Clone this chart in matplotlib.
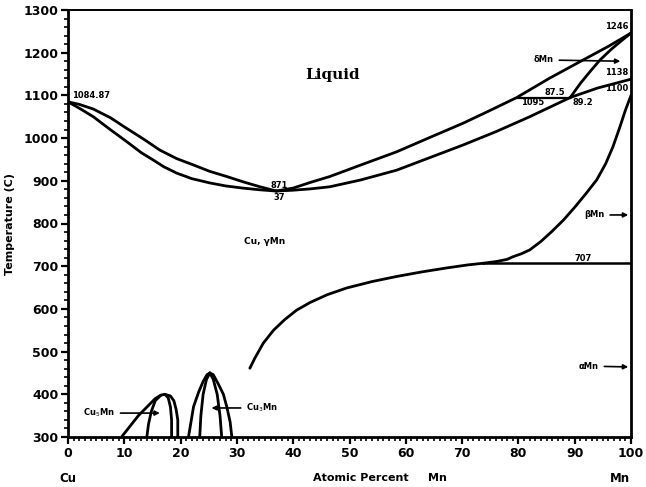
import matplotlib
matplotlib.use("Agg")
import matplotlib.pyplot as plt
from matplotlib.ticker import MultipleLocator

# ---- data (composition at.% Mn, temperature C) ----
liq_left_x = [0, 2, 4.5, 7.5, 10.4, 13.5, 16.3, 19.3, 22.3, 25.2, 28.2, 31, 34.1, 37]
liq_left_t = [1084.87, 1079, 1068, 1048, 1023, 997, 972, 952, 937, 922, 910, 898, 886, 876]
liq_right_x = [37, 40, 43, 46.5, 52, 58.4, 64, 70.2, 75, 79.7, 85.5, 91.5, 96, 100]
liq_right_t = [876, 883, 896, 910, 937, 968, 1000, 1035, 1065, 1095, 1140, 1183, 1215, 1246]

sol_left_x = [0, 2, 4.5, 7.5, 10.4, 13, 15.1, 17, 19.3, 22, 25.2, 28, 31, 34, 37]
sol_left_t = [1084.87, 1070, 1050, 1020, 992, 966, 949, 933, 918, 905, 895, 888, 883, 879, 876]
sol_right_x = [37, 40, 43, 46.5, 52, 58.4, 64, 70.2, 76, 82, 86, 89.2]
sol_right_t = [876, 878, 881, 886, 902, 925, 953, 984, 1015, 1050, 1075, 1095]

delta_sol_x = [89.2, 91, 92.8, 94.5, 96.5, 98.3, 100]
delta_sol_t = [1095, 1128, 1157, 1183, 1208, 1228, 1246]

perit_x = [79.7, 89.2]
perit_t = [1095, 1095]

gd_x = [89.2, 94, 100]
gd_t = [1095, 1117, 1138]

gb_x = [73.8, 76.1, 78, 79, 80.5, 82, 84, 86, 88, 90, 92, 93.9, 95.5, 96.8, 98, 99, 100]
gb_t = [707, 711, 716, 722, 729, 738, 758, 782, 808, 838, 870, 902, 940, 980, 1025, 1065, 1100]

line707_x = [73.8, 100]
line707_t = [707, 707]

low_x = [32.3, 33.2, 34.7, 36.5, 38.5, 40.6, 43, 46, 49.5, 54, 58.4, 63, 67.3, 71, 73.8]
low_t = [461, 485, 520, 550, 575, 597, 615, 633, 649, 664, 676, 687, 696, 703, 707]

# Cu5Mn dome
d1_outer_x = [9.5, 11, 12.5, 14, 15.5, 16.5, 17.2, 18.2, 18.8, 19.2, 19.5, 19.5]
d1_outer_t = [300, 325, 350, 370, 390, 398, 400, 396, 385, 365, 340, 300]
d1_inl_x = [14, 14.3, 14.8, 15.5, 16.5]
d1_inl_t = [300, 330, 360, 385, 398]
d1_inr_x = [18.4, 18.4, 18.2, 17.8, 17.2]
d1_inr_t = [300, 340, 370, 392, 400]

# Cu3Mn dome
d2_outer_x = [21.4, 22.3, 23.2, 24, 24.7, 25.2, 25.8, 26.7, 27.6, 28.2, 28.8, 29.1]
d2_outer_t = [300, 371, 405, 430, 446, 450, 446, 424, 400, 371, 335, 300]
d2_inl_x = [23.4, 23.6, 24.0, 24.6, 25.2]
d2_inl_t = [300, 350, 400, 435, 450]
d2_inr_x = [27.3, 27.0, 26.5, 25.8, 25.2]
d2_inr_t = [300, 350, 400, 435, 450]

x_ticks = [0, 10, 20, 30, 40, 50, 60, 70, 80, 90, 100]
y_ticks = [300, 400, 500, 600, 700, 800, 900, 1000, 1100, 1200, 1300]

fig = plt.figure(figsize=(6.46, 4.87), dpi=100)
ax = fig.add_axes([68 / 646, 1 - 437 / 487, (631 - 68) / 646, (437 - 10) / 487])

lw = 2.0
c = "black"
for xs, ts in [(liq_left_x, liq_left_t), (liq_right_x, liq_right_t),
               (sol_left_x, sol_left_t), (sol_right_x, sol_right_t),
               (delta_sol_x, delta_sol_t), (gd_x, gd_t), (gb_x, gb_t),
               (low_x, low_t),
               (d1_outer_x, d1_outer_t), (d1_inl_x, d1_inl_t), (d1_inr_x, d1_inr_t),
               (d2_outer_x, d2_outer_t), (d2_inl_x, d2_inl_t), (d2_inr_x, d2_inr_t)]:
    ax.plot(xs, ts, color=c, lw=lw, solid_capstyle="round", solid_joinstyle="round")
ax.plot(perit_x, perit_t, color=c, lw=1.6)
ax.plot(line707_x, line707_t, color=c, lw=1.8)

ax.set_xlim(0, 100)
ax.set_ylim(300, 1300)
ax.set_xticks(x_ticks)
ax.set_yticks(y_ticks)
ax.xaxis.set_minor_locator(MultipleLocator(1))
ax.yaxis.set_minor_locator(MultipleLocator(20))
ax.tick_params(which="major", direction="out", length=5, width=1.6,
               labelsize=9, pad=2)
ax.tick_params(which="minor", direction="out", length=3, width=1.2)
ax.tick_params(top=False, right=False)
for lab in ax.get_xticklabels() + ax.get_yticklabels():
    lab.set_fontweight("bold")
for s in ["left", "bottom", "right"]:
    ax.spines[s].set_linewidth(2.0)
ax.spines["top"].set_linewidth(1.4)

ax.set_ylabel("Temperature (C)", fontsize=8, fontweight="bold", labelpad=6)

# bottom texts
fig.text(68 / 646, 1 - 478 / 487, "Cu", fontsize=8.5, fontweight="bold", ha="center", va="center")
fig.text(380 / 646, 1 - 478 / 487, "Atomic Percent     Mn", fontsize=8, fontweight="bold", ha="center", va="center")
fig.text(620 / 646, 1 - 478 / 487, "Mn", fontsize=8.5, fontweight="bold", ha="center", va="center")

small = dict(fontsize=6, fontweight="bold", color=c)
ax.text(47, 1148, "Liquid", fontsize=11, fontweight="bold", family="DejaVu Serif", ha="center", va="center")
ax.text(35, 757, "Cu, γMn", fontsize=6.5, fontweight="bold", ha="center", va="center")
ax.text(0.8, 1100, "1084.87", ha="left", va="center", **small)
ax.text(37.5, 890, "871", ha="center", va="center", **small)
ax.text(37.5, 862, "37", ha="center", va="center", **small)
ax.text(99.5, 1262, "1246", ha="right", va="center", **small)
ax.text(99.5, 1153, "1138", ha="right", va="center", **small)
ax.text(99.5, 1117, "1100", ha="right", va="center", **small)
ax.text(86.5, 1107, "87.5", ha="center", va="center", **small)
ax.text(82.5, 1083, "1095", ha="center", va="center", **small)
ax.text(91.5, 1083, "89.2", ha="center", va="center", **small)
ax.text(91.5, 718, "707", ha="center", va="center", **small)

arrow = dict(arrowstyle="-|>", color=c, lw=1.2, mutation_scale=7)
ax.annotate("δMn", xy=(98.6, 1180), xytext=(84.5, 1183), ha="center", va="center",
            arrowprops=arrow, **small)
ax.annotate("βMn", xy=(100, 820), xytext=(93.5, 820), ha="center", va="center",
            arrowprops=arrow, **small)
ax.annotate("αMn", xy=(100, 464), xytext=(92.5, 466), ha="center", va="center",
            arrowprops=arrow, **small)
ax.annotate("Cu$_5$Mn", xy=(16.8, 356), xytext=(5.5, 356), ha="center", va="center",
            arrowprops=arrow, **small)
ax.annotate("Cu$_3$Mn", xy=(25.0, 368), xytext=(34.5, 368), ha="center", va="center",
            arrowprops=arrow, **small)

fig.savefig("out.png", dpi=100)
